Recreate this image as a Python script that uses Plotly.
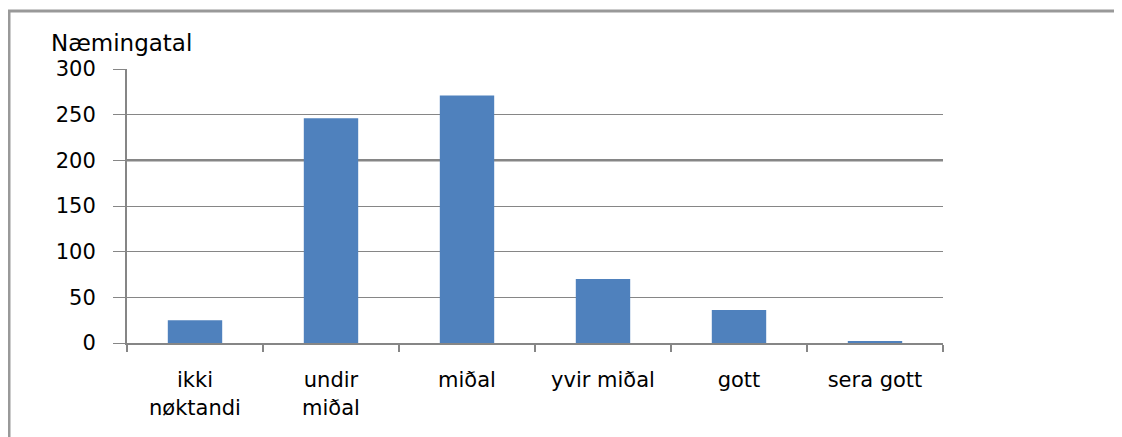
import plotly.graph_objects as go

categories = ["ikki<br>nøktandi", "undir<br>miðal", "miðal", "yvir miðal", "gott", "sera gott"]
values = [25, 246, 271, 70, 36, 2]
y_ticks = [0, 50, 100, 150, 200, 250, 300]
y_title = "Næmingatal"

OFF = 8  # page body margin
W, H = 1122 - OFF, 437 - OFF
L, T = 127 - OFF, 69 - OFF
R = W - (943 - OFF)
B = H - (343 - OFF)
pw, ph = W - L - R, H - T - B

def px_x(x):
    return (x - OFF - L) / pw

def px_y(y):
    return (H - B - (y - OFF)) / ph

fig = go.Figure(go.Bar(x=categories, y=values, marker=dict(color="#4f81bd", line=dict(width=0)), width=0.4))

font = dict(family="DejaVu Sans", size=21, color="black")
fig.update_layout(
    width=W, height=H,
    margin=dict(l=L, r=R, t=T, b=B, autoexpand=False),
    paper_bgcolor="white", plot_bgcolor="white",
    showlegend=False,
    font=font,
    xaxis=dict(
        type="category", tickson="boundaries", ticks="outside", ticklen=7, tickwidth=2,
        tickcolor="#868686", showline=True, linecolor="#868686", linewidth=2,
        showgrid=False, ticklabelstandoff=17, tickfont=font,
    ),
    yaxis=dict(
        range=[0, 300], tickvals=y_ticks, ticks="outside", ticklen=12, tickwidth=1,
        tickcolor="#868686", showline=True, linecolor="#868686", linewidth=2,
        showgrid=True, gridcolor="#868686", gridwidth=1, zeroline=False,
        ticklabelstandoff=13, tickfont=font,
    ),
    annotations=[dict(
        text=y_title, xref="paper", yref="paper", x=px_x(49), y=px_y(43),
        xanchor="left", yanchor="middle", showarrow=False,
        font=dict(family="DejaVu Sans", size=23, color="black"),
    )],
    shapes=[
        dict(type="line", xref="paper", yref="y", x0=0, x1=1, y0=200, y1=200,
             line=dict(color="#868686", width=2.5), layer="below"),
        dict(type="rect", xref="paper", yref="paper",
             x0=px_x(9), x1=px_x(1140), y0=px_y(445), y1=px_y(11),
             line=dict(color="#999999", width=3), fillcolor="rgba(0,0,0,0)"),
    ],
)

fig.write_html("out.html", config={"displayModeBar": False})
